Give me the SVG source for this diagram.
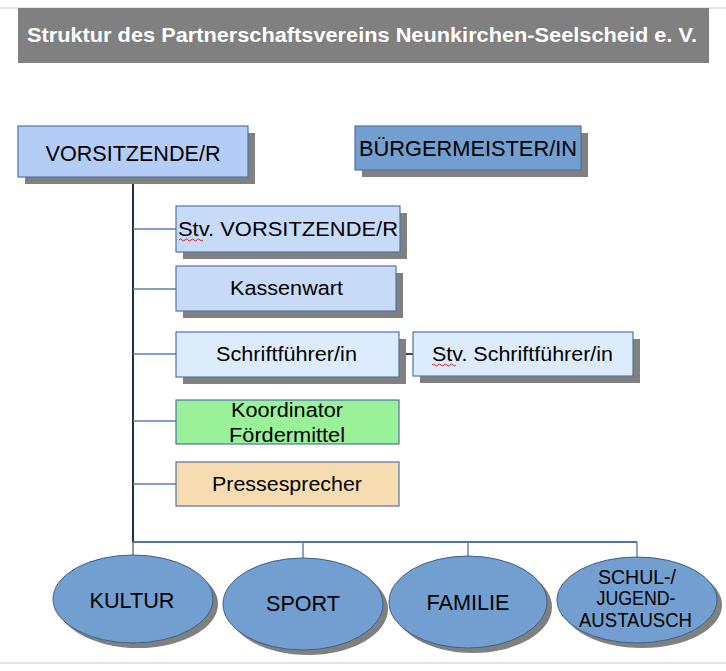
<svg xmlns="http://www.w3.org/2000/svg" width="726" height="671" viewBox="0 0 726 671">
<style>
  .t{font-family:"Liberation Sans",Arial,sans-serif;fill:#000;text-anchor:middle}
  .n{font-family:"Liberation Sans Narrow","Liberation Sans",Arial,sans-serif;fill:#000;text-anchor:middle}
  .box{stroke:#4f74a6;stroke-width:1.2}
  .sh{fill:#808080}
  .ell{fill:#729fcf;stroke:#3e5f8a;stroke-width:1}
  .br{stroke:#5b7eab;stroke-width:1.4;fill:none}
</style>
<rect width="726" height="671" fill="#ffffff"/>
<line x1="0" y1="8" x2="726" y2="8" stroke="#c8c8c8" stroke-width="1"/>
<line x1="0" y1="663" x2="726" y2="663" stroke="#c8c8c8" stroke-width="1"/>
<g id="title">
  <rect x="18" y="8" width="691" height="55" fill="#808080"/>
  <text x="362" y="42" font-family="'Liberation Sans Narrow','Liberation Sans',Arial,sans-serif" font-weight="bold" font-size="20" fill="#ffffff" text-anchor="middle" textLength="670" lengthAdjust="spacingAndGlyphs">Struktur des Partnerschaftsvereins Neunkirchen-Seelscheid e. V.</text>
</g>
<g id="connectors">
  <line x1="133" y1="177" x2="133" y2="542" stroke="#1e3150" stroke-width="2"/>
  <line class="br" x1="133" y1="229" x2="176" y2="229"/>
  <line class="br" x1="133" y1="289" x2="176" y2="289"/>
  <line class="br" x1="133" y1="354" x2="176" y2="354"/>
  <line class="br" x1="133" y1="421" x2="176" y2="421"/>
  <line class="br" x1="133" y1="484" x2="176" y2="484"/>
  <line x1="399" y1="354" x2="413" y2="354" stroke="#444444" stroke-width="2"/>
  <line x1="133" y1="542" x2="637" y2="542" stroke="#4f74a6" stroke-width="2"/>
  <line x1="133" y1="542" x2="133" y2="555" stroke="#555555" stroke-width="1.2"/>
  <line class="br" x1="303" y1="542" x2="303" y2="558"/>
  <line class="br" x1="468" y1="542" x2="468" y2="556"/>
  <line class="br" x1="637" y1="542" x2="637" y2="557"/>
</g>
<g id="vorsitzende">
  <rect class="sh" x="25" y="133" width="230" height="51"/>
  <rect class="box" x="18" y="126" width="230" height="51" fill="#b4cdf6"/>
  <text class="n" x="133" y="161" font-size="22" textLength="175" lengthAdjust="spacingAndGlyphs">VORSITZENDE/R</text>
</g>
<g id="buergermeister">
  <rect class="sh" x="362" y="133" width="226" height="44"/>
  <rect class="box" x="355" y="126" width="226" height="44" fill="#729fcf"/>
  <text class="n" x="468" y="156" font-size="22" textLength="218" lengthAdjust="spacingAndGlyphs">BÜRGERMEISTER/IN</text>
</g>
<g id="stv-vorsitzende">
  <rect class="sh" x="183" y="213" width="224" height="46"/>
  <rect class="box" x="176" y="206" width="224" height="46" fill="#c7dbf9"/>
  <text class="t" x="288" y="236" font-size="20" textLength="220" lengthAdjust="spacingAndGlyphs">Stv. VORSITZENDE/R</text>
  <path d="M179,240 q1.5,-2 3,0 t3,0 t3,0 t3,0 t3,0 t3,0 t3,0 t3,0" stroke="#cc2222" stroke-width="1" fill="none"/>
</g>
<g id="kassenwart">
  <rect class="sh" x="183" y="273" width="220" height="45"/>
  <rect class="box" x="176" y="266" width="220" height="45" fill="#c7dbf9"/>
  <text class="t" x="286.5" y="295" font-size="20.5" textLength="113" lengthAdjust="spacingAndGlyphs">Kassenwart</text>
</g>
<g id="schriftfuehrer">
  <rect class="sh" x="183" y="339" width="223" height="45"/>
  <rect class="box" x="176" y="332" width="223" height="45" fill="#ddecfc"/>
  <text class="t" x="286.5" y="361" font-size="20.5" textLength="141" lengthAdjust="spacingAndGlyphs">Schriftführer/in</text>
</g>
<g id="stv-schriftfuehrer">
  <rect class="sh" x="420" y="339" width="220" height="44"/>
  <rect class="box" x="413" y="332" width="220" height="44" fill="#ddecfc"/>
  <text class="t" x="522.5" y="361" font-size="20.5" textLength="181" lengthAdjust="spacingAndGlyphs">Stv. Schriftführer/in</text>
  <path d="M432,365 q1.5,-2 3,0 t3,0 t3,0 t3,0 t3,0 t3,0 t3,0 t3,0" stroke="#cc2222" stroke-width="1" fill="none"/>
</g>
<g id="koordinator">
  <rect class="box" x="176" y="400" width="223" height="44" fill="#99f199"/>
  <text class="t" x="287" y="417" font-size="20.5" textLength="112" lengthAdjust="spacingAndGlyphs">Koordinator</text>
  <text class="t" x="287" y="442" font-size="20.5" textLength="116" lengthAdjust="spacingAndGlyphs">Fördermittel</text>
</g>
<g id="pressesprecher">
  <rect class="box" x="176" y="462" width="223" height="44" fill="#f6dcb0"/>
  <text class="t" x="287" y="491" font-size="20.5" textLength="150" lengthAdjust="spacingAndGlyphs">Pressesprecher</text>
</g>
<g id="kultur">
  <ellipse class="sh" cx="138" cy="604" rx="80" ry="44"/>
  <ellipse class="ell" cx="133" cy="599" rx="80" ry="44"/>
  <text class="n" x="132" y="608" font-size="22" textLength="85" lengthAdjust="spacingAndGlyphs">KULTUR</text>
</g>
<g id="sport">
  <ellipse class="sh" cx="308" cy="609" rx="80" ry="46"/>
  <ellipse class="ell" cx="303" cy="604" rx="80" ry="46"/>
  <text class="n" x="303" y="611" font-size="22" textLength="74" lengthAdjust="spacingAndGlyphs">SPORT</text>
</g>
<g id="familie">
  <ellipse class="sh" cx="473" cy="607" rx="79" ry="46"/>
  <ellipse class="ell" cx="468" cy="602" rx="79" ry="46"/>
  <text class="n" x="468" y="610" font-size="22" textLength="83" lengthAdjust="spacingAndGlyphs">FAMILIE</text>
</g>
<g id="schul">
  <ellipse class="sh" cx="642" cy="605" rx="80" ry="43"/>
  <ellipse class="ell" cx="637" cy="600" rx="80" ry="43"/>
  <text class="n" x="637" y="584" font-size="20" textLength="78" lengthAdjust="spacingAndGlyphs">SCHUL-/</text>
  <text class="n" x="636" y="605" font-size="20" textLength="79" lengthAdjust="spacingAndGlyphs">JUGEND-</text>
  <text class="n" x="635.5" y="627" font-size="20" textLength="113" lengthAdjust="spacingAndGlyphs">AUSTAUSCH</text>
</g>
</svg>
